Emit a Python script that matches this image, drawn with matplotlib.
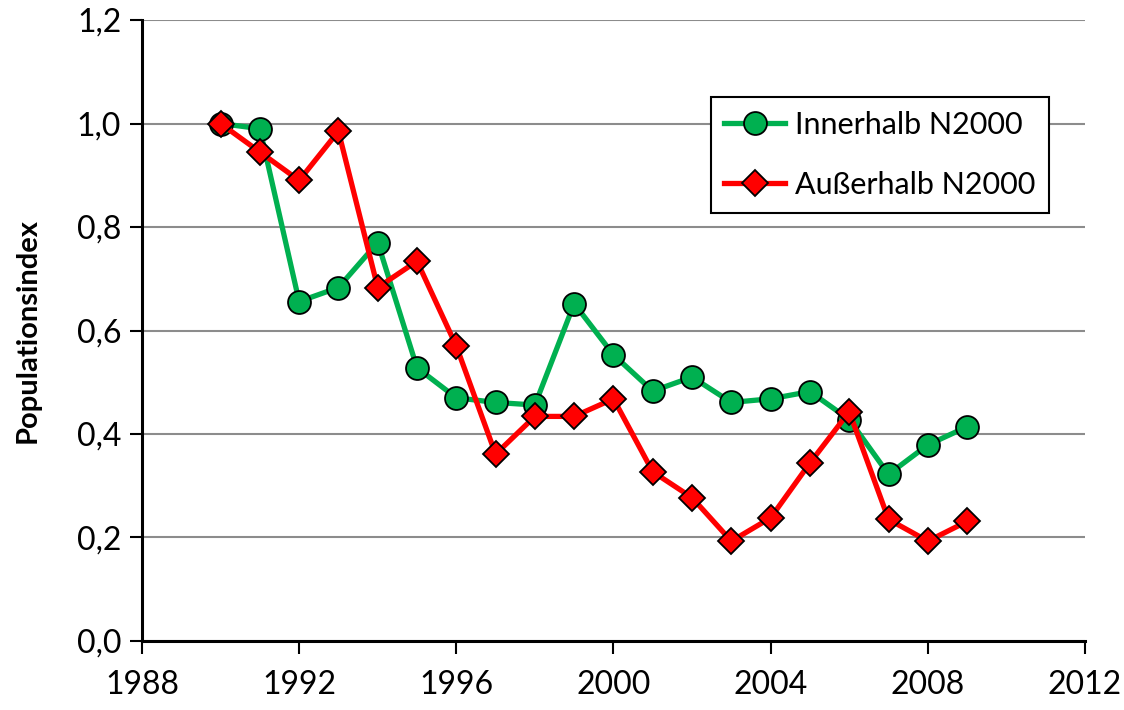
import matplotlib
matplotlib.use("Agg")
import matplotlib.pyplot as plt
from matplotlib.ticker import FuncFormatter

years = list(range(1990, 2010))
innerhalb = [1.000, 0.990, 0.656, 0.683, 0.770, 0.528, 0.470, 0.461, 0.456, 0.652,
             0.553, 0.483, 0.510, 0.461, 0.468, 0.482, 0.428, 0.322, 0.379, 0.414]
ausserhalb = [1.000, 0.945, 0.890, 0.985, 0.683, 0.734, 0.570, 0.361, 0.434, 0.434,
              0.468, 0.327, 0.277, 0.193, 0.238, 0.344, 0.443, 0.235, 0.193, 0.231]
label_in = "Innerhalb N2000"
label_out = "Außerhalb N2000"
ylabel = "Populationsindex"
xticks = [1988, 1992, 1996, 2000, 2004, 2008, 2012]
yticks = [0.0, 0.2, 0.4, 0.6, 0.8, 1.0, 1.2]

plt.rcParams['font.family'] = ['Lato', 'DejaVu Sans']

fig = plt.figure(figsize=(11.24, 7.10), dpi=100)
ax = fig.add_axes([0.1263, 0.0972, 0.839, 0.8746])

ax.plot(years, innerhalb, color='#00B050', lw=3.8, marker='o', markersize=16.5,
        markerfacecolor='#00B050', markeredgecolor='black', markeredgewidth=1.3,
        label=label_in, zorder=3)
ax.plot(years, ausserhalb, color='#FF0000', lw=3.8, marker='D', markersize=13,
        markerfacecolor='#FF0000', markeredgecolor='black', markeredgewidth=1.3,
        label=label_out, zorder=4)

ax.set_xlim(1988, 2012)
ax.set_ylim(0, 1.2)
ax.set_xticks(xticks)
ax.set_yticks(yticks)
ax.yaxis.set_major_formatter(FuncFormatter(lambda v, p: f"{v:.1f}".replace('.', ',')))
ax.grid(axis='y', color='#8c8c8c', lw=1.5, zorder=0)
ax.set_axisbelow(True)
for s in ['top', 'right']:
    ax.spines[s].set_visible(False)
for s in ['left', 'bottom']:
    ax.spines[s].set_linewidth(2.2)
ax.tick_params(axis='both', direction='out', length=9, width=1.5, labelsize=23, pad=6)
ax.tick_params(axis='x', pad=12)
ax.set_ylabel(ylabel, fontsize=21, fontweight='bold', labelpad=26)

leg = ax.legend(loc='upper left', bbox_to_anchor=(0.603, 0.876), fontsize=22,
                frameon=True, fancybox=False, edgecolor='black', framealpha=1,
                handlelength=2.0, borderpad=0.45, labelspacing=1.05, handletextpad=0.3,
                borderaxespad=0)
leg.get_frame().set_linewidth(1.5)

fig.savefig("out.png", dpi=100)
